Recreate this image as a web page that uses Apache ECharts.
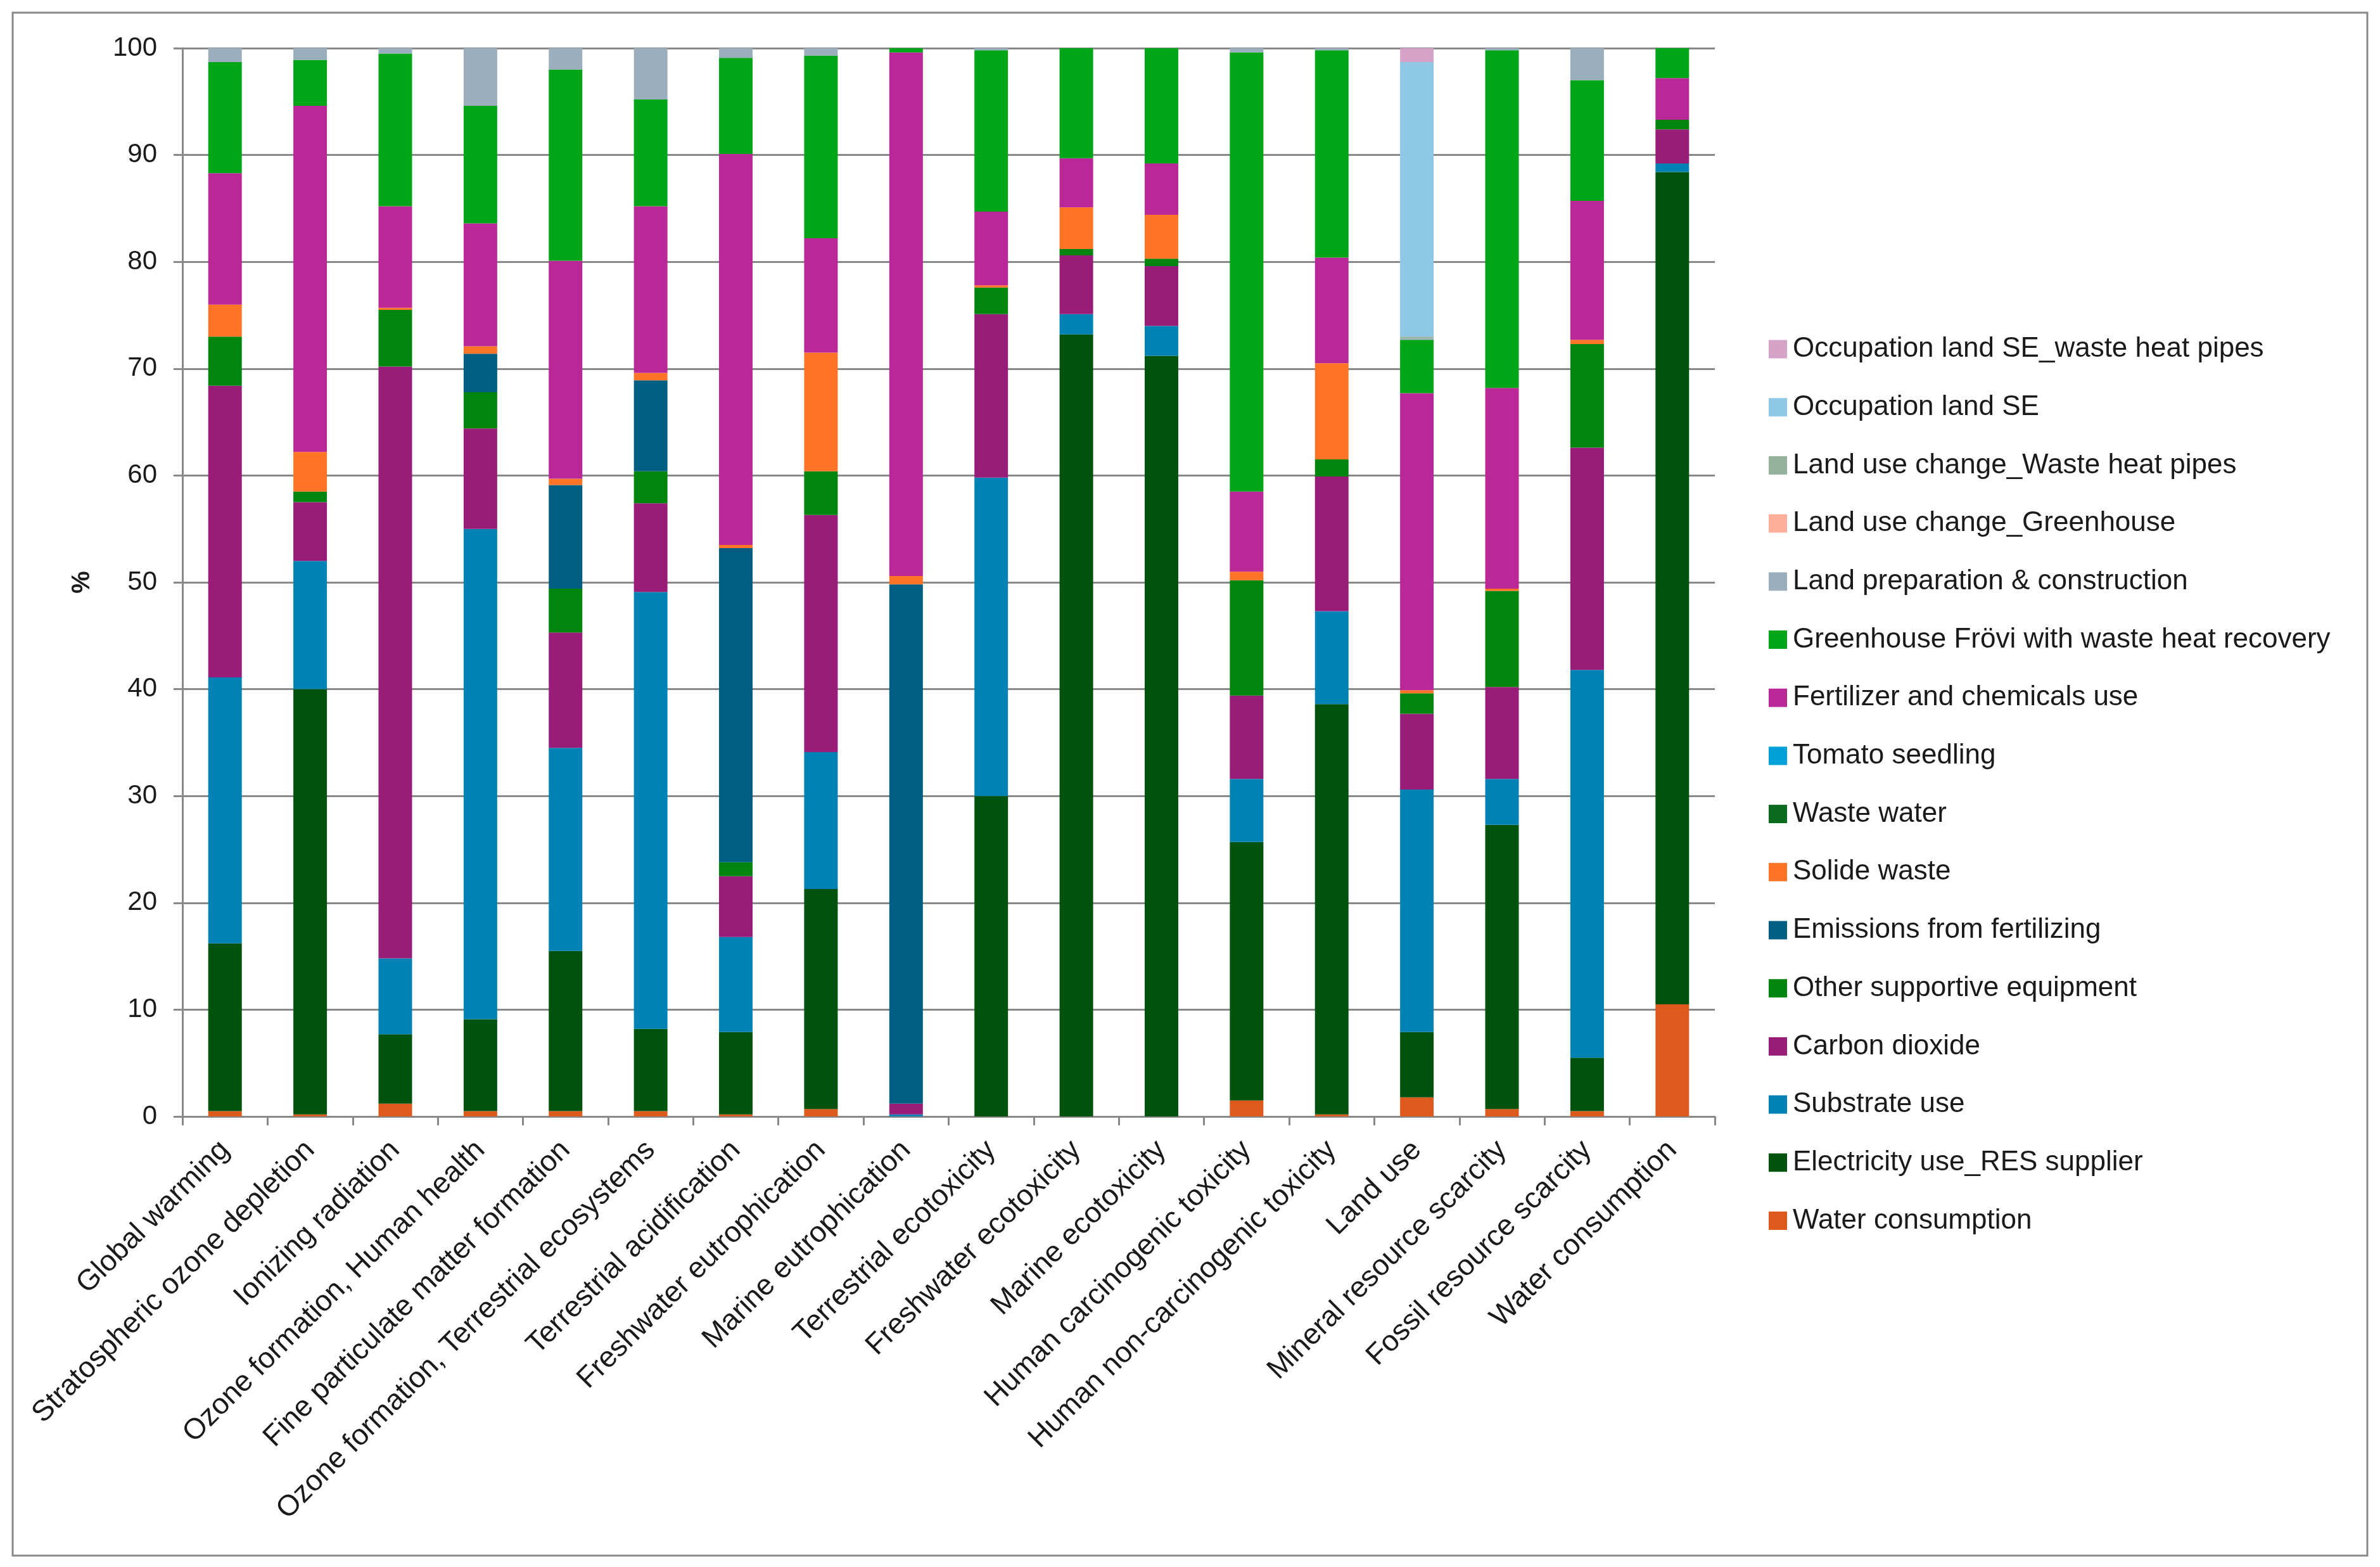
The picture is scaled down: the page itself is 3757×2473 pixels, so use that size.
<!DOCTYPE html>
<html>
<head>
<meta charset="utf-8">
<script src="https://cdn.jsdelivr.net/npm/echarts@6/dist/echarts.min.js"></script>
<style>
  html, body { margin: 0; padding: 0; background: #fff; }
  #chart { width: 3757px; height: 2473px; }
</style>
</head>
<body>
<div id="chart"></div>
<script>
const categories = [
  'Global warming', 'Stratospheric ozone depletion', 'Ionizing radiation',
  'Ozone formation, Human health', 'Fine particulate matter formation',
  'Ozone formation, Terrestrial ecosystems', 'Terrestrial acidification',
  'Freshwater eutrophication', 'Marine eutrophication', 'Terrestrial ecotoxicity',
  'Freshwater ecotoxicity', 'Marine ecotoxicity', 'Human carcinogenic toxicity',
  'Human non-carcinogenic toxicity', 'Land use', 'Mineral resource scarcity',
  'Fossil resource scarcity', 'Water consumption'
];

const yTicks = [0, 10, 20, 30, 40, 50, 60, 70, 80, 90, 100];

// stacked bottom -> top
const waterConsumption = [0.5, 0.2, 1.2, 0.5, 0.5, 0.5, 0.2, 0.7, 0, 0, 0, 0, 1.5, 0.2, 1.8, 0.7, 0.5, 10.5];
const electricityUse   = [15.7, 39.8, 6.5, 8.6, 15.0, 7.7, 7.7, 20.6, 0, 30.0, 73.2, 71.2, 24.2, 38.4, 6.1, 26.6, 5.0, 77.9];
const substrateUse     = [24.9, 12.0, 7.1, 45.9, 19.0, 40.9, 8.9, 12.8, 0.2, 29.8, 1.9, 2.8, 5.9, 8.7, 22.7, 4.3, 36.3, 0.8];
const carbonDioxide    = [27.3, 5.5, 55.4, 9.4, 10.8, 8.3, 5.7, 22.2, 1.0, 15.3, 5.5, 5.6, 7.8, 12.6, 7.1, 8.6, 20.8, 3.2];
const otherEquipment   = [4.6, 1.0, 5.3, 3.4, 4.1, 3.0, 1.3, 4.1, 0, 2.5, 0.6, 0.7, 10.8, 1.6, 1.9, 9.0, 9.7, 0.9];
const emissionsFert    = [0, 0, 0, 3.6, 9.7, 8.5, 29.4, 0, 48.6, 0, 0, 0, 0, 0, 0, 0, 0, 0];
const solideWaste      = [3.0, 3.7, 0.2, 0.7, 0.6, 0.7, 0.3, 11.1, 0.8, 0.2, 3.9, 4.1, 0.8, 9.0, 0.3, 0.2, 0.4, 0];
const wasteWater       = [0, 0, 0, 0, 0, 0, 0, 0, 0, 0, 0, 0, 0, 0, 0, 0, 0, 0];
const tomatoSeedling   = [0, 0, 0, 0, 0, 0, 0, 0, 0, 0, 0, 0, 0, 0, 0, 0, 0, 0];
const fertilizerUse    = [12.3, 32.4, 9.5, 11.5, 20.4, 15.6, 36.6, 10.7, 49.0, 6.9, 4.6, 4.8, 7.5, 9.9, 27.8, 18.8, 13.0, 3.9];
const greenhouseFrovi  = [10.4, 4.3, 14.3, 11.0, 17.9, 10.0, 9.0, 17.1, 0.4, 15.1, 10.3, 10.8, 41.1, 19.4, 5.0, 31.6, 11.3, 2.8];
const landPreparation  = [1.3, 1.1, 0.5, 5.4, 2.0, 4.8, 0.9, 0.7, 0, 0.2, 0, 0, 0.4, 0.2, 0.15, 0.2, 3.0, 0];
const lucGreenhouse    = [0, 0, 0, 0, 0, 0, 0, 0, 0, 0, 0, 0, 0, 0, 0, 0, 0, 0];
const lucHeatPipes     = [0, 0, 0, 0, 0, 0, 0, 0, 0, 0, 0, 0, 0, 0, 0.15, 0, 0, 0];
const occupationSE     = [0, 0, 0, 0, 0, 0, 0, 0, 0, 0, 0, 0, 0, 0, 25.7, 0, 0, 0];
const occupationPipes  = [0, 0, 0, 0, 0, 0, 0, 0, 0, 0, 0, 0, 0, 0, 1.3, 0, 0, 0];

const seriesNames = [
  'Water consumption', 'Electricity use_RES supplier', 'Substrate use', 'Carbon dioxide',
  'Other supportive equipment', 'Emissions from fertilizing', 'Solide waste', 'Waste water',
  'Tomato seedling', 'Fertilizer and chemicals use', 'Greenhouse Frövi with waste heat recovery',
  'Land preparation & construction', 'Land use change_Greenhouse', 'Land use change_Waste heat pipes',
  'Occupation land SE', 'Occupation land SE_waste heat pipes'
];
const seriesData = [
  waterConsumption, electricityUse, substrateUse, carbonDioxide, otherEquipment,
  emissionsFert, solideWaste, wasteWater, tomatoSeedling, fertilizerUse,
  greenhouseFrovi, landPreparation, lucGreenhouse, lucHeatPipes, occupationSE, occupationPipes
];
const seriesColors = [
  '#DD5A1C', '#00520F', '#0083B4', '#981C78', '#00860E', '#005E82', '#FF7427', '#0A6B1E',
  '#00A0D8', '#BA2796', '#00A618', '#9AAEBD', '#FFB09A', '#93B19C', '#8FC8E6', '#D5A3C7'
];

const chart = echarts.init(document.getElementById('chart'), null, {
  width: 3757, height: 2473, devicePixelRatio: 1
});

const font = 'Liberation Sans, Arial, sans-serif';
const axisGray = '#898989';

const option = {
  animation: false,
  backgroundColor: '#fff',
  textStyle: { fontFamily: font },
  graphic: [{
    type: 'rect',
    shape: { x: 20, y: 20, width: 3717, height: 2435 },
    style: { fill: null, stroke: axisGray, lineWidth: 3 }
  }],
  grid: {
    left: 288, top: 76, width: 2419, height: 1686,
    containLabel: false, outerBoundsMode: 'none'
  },
  legend: {
    orient: 'vertical',
    left: 2787,
    top: 524,
    itemWidth: 29,
    itemHeight: 29,
    itemGap: 47.7,
    icon: 'rect',
    data: seriesNames.slice().reverse(),
    textStyle: { fontSize: 44, color: '#1a1a1a', fontFamily: font, padding: [0, 0, 0, 4] }
  },
  xAxis: {
    type: 'category',
    data: categories,
    axisLine: { lineStyle: { color: axisGray, width: 3 } },
    axisTick: { show: true, length: 14, interval: 0, lineStyle: { color: axisGray, width: 3 } },
    axisLabel: {
      interval: 0, rotate: 45, margin: 46,
      fontSize: 46, color: '#1a1a1a', fontFamily: font
    }
  },
  yAxis: {
    type: 'value',
    min: 0, max: 100, interval: 10,
    name: '%',
    nameLocation: 'middle',
    nameRotate: 90,
    nameGap: 138,
    nameTextStyle: { fontSize: 40, color: '#1a1a1a', fontWeight: 'bold' },
    axisLine: { show: true, lineStyle: { color: axisGray, width: 3 } },
    axisTick: { show: true, length: 14, lineStyle: { color: axisGray, width: 3 } },
    axisLabel: {
      margin: 40, fontSize: 42, color: '#1a1a1a', fontFamily: font,
      formatter: function (v) { return yTicks.indexOf(v) >= 0 ? String(v) : ''; }
    },
    splitLine: { show: true, lineStyle: { color: axisGray, width: 3 } }
  },
  series: seriesNames.map(function (name, i) {
    return {
      name: name,
      type: 'bar',
      stack: 'total',
      barWidth: 53,
      data: seriesData[i],
      itemStyle: { color: seriesColors[i] }
    };
  })
};

chart.setOption(option);
</script>
</body>
</html>
